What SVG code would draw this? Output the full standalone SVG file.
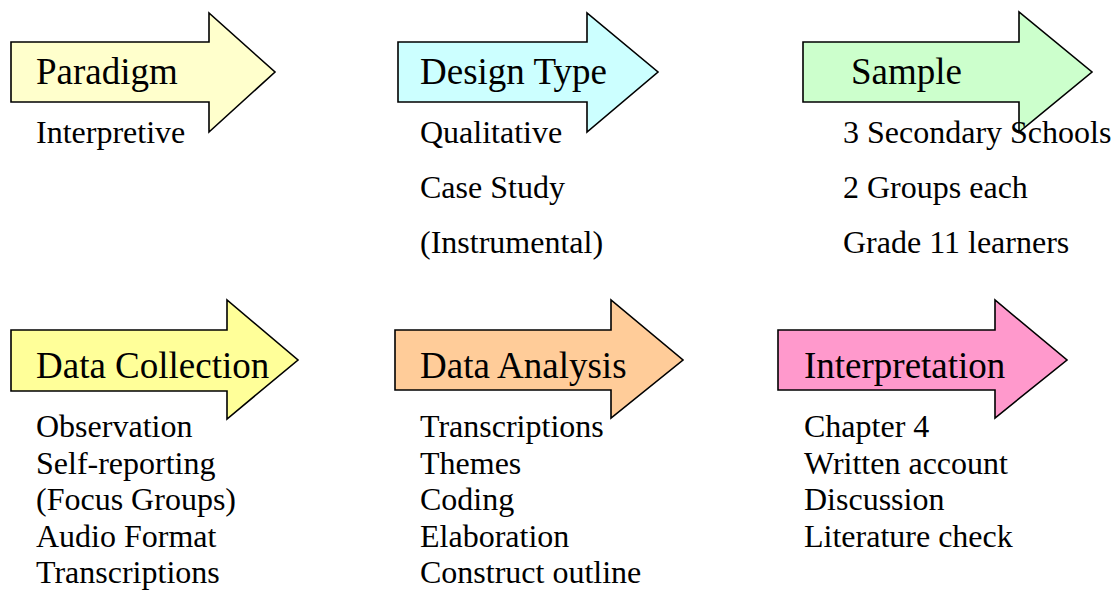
<svg xmlns="http://www.w3.org/2000/svg" width="1117" height="594" viewBox="0 0 1117 594">
<style>
.arrow{stroke:#000;stroke-width:1.6;stroke-linejoin:miter}
.title{font-family:"Liberation Serif","Times New Roman",serif;font-size:37px;fill:#000}
.body{font-family:"Liberation Serif","Times New Roman",serif;font-size:32px;fill:#000}
</style>
<rect width="1117" height="594" fill="#fff"/>
<g id="connectors"></g>
<g id="paradigm">
<polygon class="arrow" fill="#FFFFCC" points="11,42 209,42 209,13 275,72 209,132 209,102 11,102"/>
<text class="title" x="36" y="84">Paradigm</text>
<text class="body" x="36" y="143">Interpretive</text>
</g>
<g id="design-type">
<polygon class="arrow" fill="#CCFFFF" points="398,42 587,42 587,13 658,72 587,132 587,102 398,102"/>
<text class="title" x="420" y="84">Design Type</text>
<text class="body" x="420" y="143">Qualitative</text>
<text class="body" x="420" y="198">Case Study</text>
<text class="body" x="420" y="253">(Instrumental)</text>
</g>
<g id="sample">
<polygon class="arrow" fill="#CCFFCC" points="803,42 1019,42 1019,12 1092,72 1019,132 1019,102 803,102"/>
<text class="title" x="851" y="84">Sample</text>
<text class="body" x="843" y="143">3 Secondary Schools</text>
<text class="body" x="843" y="198">2 Groups each</text>
<text class="body" x="843" y="253">Grade 11 learners</text>
</g>
<g id="data-collection">
<polygon class="arrow" fill="#FFFF99" points="11,330 227,330 227,300 298,360 227,419 227,391 11,391"/>
<text class="title" x="36" y="378">Data Collection</text>
<text class="body" x="36" y="437">Observation</text>
<text class="body" x="36" y="474">Self-reporting</text>
<text class="body" x="36" y="510">(Focus Groups)</text>
<text class="body" x="36" y="547">Audio Format</text>
<text class="body" x="36" y="583">Transcriptions</text>
</g>
<g id="data-analysis">
<polygon class="arrow" fill="#FFCC99" points="395,330 611,330 611,300 683,360 611,418 611,390 395,390"/>
<text class="title" x="420" y="378">Data Analysis</text>
<text class="body" x="420" y="437">Transcriptions</text>
<text class="body" x="420" y="474">Themes</text>
<text class="body" x="420" y="510">Coding</text>
<text class="body" x="420" y="547">Elaboration</text>
<text class="body" x="420" y="583">Construct outline</text>
</g>
<g id="interpretation">
<polygon class="arrow" fill="#FF99CC" points="778,330 995,330 995,300 1067,360 995,418 995,390 778,390"/>
<text class="title" x="804" y="378">Interpretation</text>
<text class="body" x="804" y="437">Chapter 4</text>
<text class="body" x="804" y="474">Written account</text>
<text class="body" x="804" y="510">Discussion</text>
<text class="body" x="804" y="547">Literature check</text>
</g>
</svg>
